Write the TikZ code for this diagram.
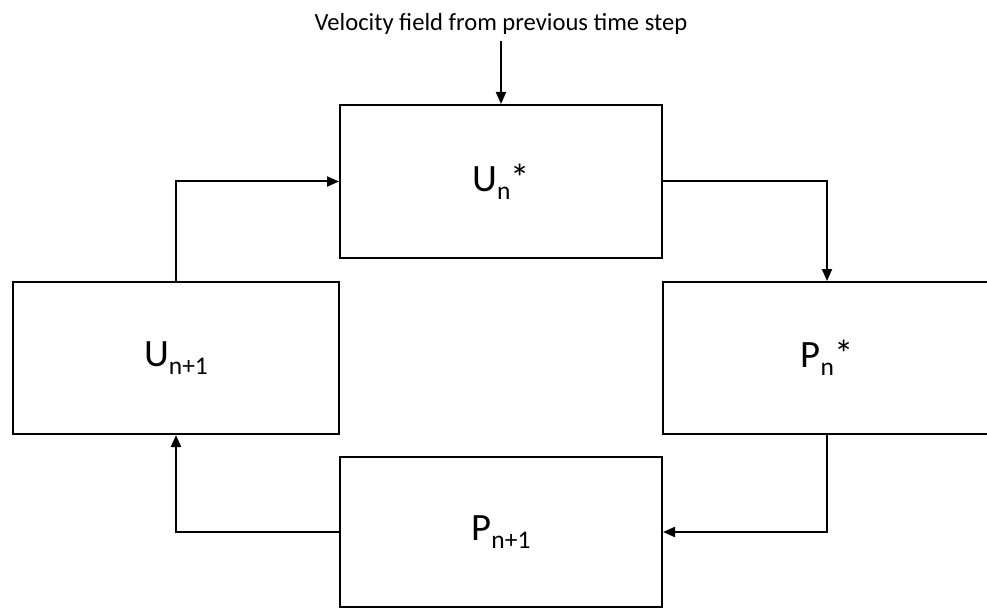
\documentclass[tikz,border=0pt]{standalone}
\usepackage{fontspec}
\setmainfont{Carlito}
\usetikzlibrary{arrows.meta,positioning}

\newcommand{\lowidx}[1]{\raisebox{-0.2em}{\fontsize{14.5}{17}\selectfont #1}}

\begin{document}
\begin{tikzpicture}[
  stage/.style={draw, line width=0.04cm, inner sep=0pt, minimum height=3.04cm, font=\fontsize{22}{26}\selectfont},
  flow/.style={-{Triangle[length=0.24cm,width=0.2cm]}, line width=0.04cm}
]
\useasboundingbox (0,0) rectangle (19.74,12.2);

% Input from previous step
\node[font=\fontsize{14}{17}\selectfont, anchor=base] (vel) at (10.02,11.58) {Velocity field from previous time step};

% Stages of the loop
\node[stage, minimum width=6.44cm, minimum height=3.06cm] (un) at (10.02,8.57) {U\lowidx{n}*};
\node[stage, minimum width=6.52cm] (un1) at (3.52,5.04) {U\lowidx{n+1}};
\node[stage, minimum width=6.56cm] (pn) at (16.54,5.04) {P\lowidx{n}*};
\node[stage, minimum width=6.44cm, minimum height=3.0cm] (pn1) at (10.02,1.56) {P\lowidx{n+1}};

% Flow arrows
\draw[flow] (vel.south) -- (un.north);
\draw[flow] (un.east) -| (pn.north);
\draw[flow] (pn.south) |- (pn1.east);
\draw[flow] (pn1.west) -| (un1.south);
\draw[flow] (un1.north) |- (un.west);

\end{tikzpicture}
\end{document}
